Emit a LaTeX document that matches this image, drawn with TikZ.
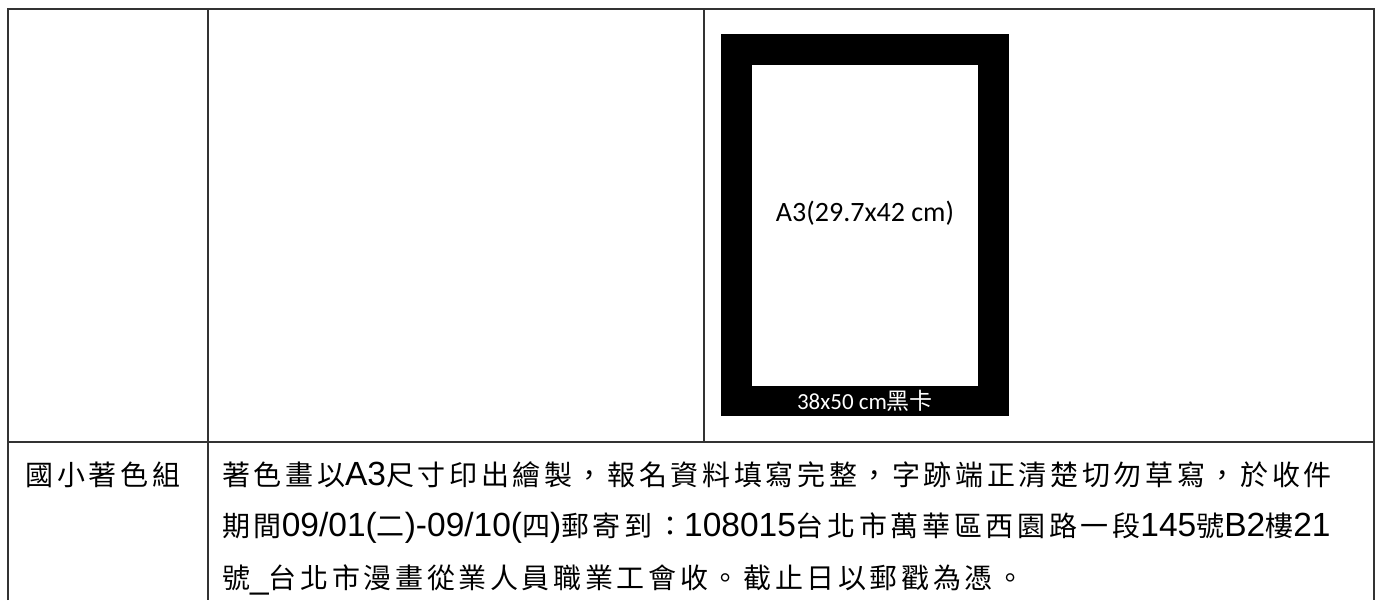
\documentclass[tikz,border=0pt]{standalone}
\usepackage{fontspec}
\newfontfamily\cjk[LetterSpace=13]{Noto Sans CJK TC}
\newfontfamily\cjkplain{Noto Sans CJK TC}
\newfontfamily\latfont{Liberation Sans}
\newfontfamily\calfont{Carlito}
\newcommand\lrun[1]{{\latfont\fontsize{33.5}{34}\selectfont #1}}
\begin{document}
\begin{tikzpicture}[x=1pt,y=-1pt,
  grid/.style={line width=1.6pt,draw=black!80},
  body/.style={font=\cjk\fontsize{28}{34}\selectfont,inner sep=0pt,anchor=base west},
  cardlbl/.style={font=\calfont\fontsize{28}{32}\selectfont,inner sep=0pt},
  cardsub/.style={font=\calfont\fontsize{23}{26}\selectfont,text=white,inner sep=0pt}]
\useasboundingbox (0,0) rectangle (1379,600);
\fill[white] (0,0) rectangle (1379,600);
% grid
\draw[grid] (8,600) -- (8,9) -- (1374,9) -- (1374,600);
\draw[grid] (208,9) -- (208,600);
\draw[grid] (704,9) -- (704,442);
\draw[grid] (8,442) -- (1374,442);
% card
\fill[black] (721,34) rectangle (1009,416);
\fill[white] (752,65) rectangle (978,386);
\node[cardlbl] (a3) at (865,213) {A3(29.7x42 cm)};
\node[cardsub] (card) at (865,401) {38x50 cm{\cjkplain 黑卡}};
% text
\node[body,anchor=base] (grp) at (103,485) {國小著色組};
\node[body] (l1) at (222,485) {著色畫以\lrun{A3}尺寸印出繪製，報名資料填寫完整，字跡端正清楚切勿草寫，於收件};
\node[body] (l2) at (222,536) {期間\lrun{09/01(}二\lrun{)-09/10(}四\lrun{)}郵寄到：\lrun{108015}台北市萬華區西園路一段\lrun{145}號\lrun{B2}樓\lrun{21}};
\node[body] (l3) at (222,588) {號\lrun{\_}台北市漫畫從業人員職業工會收。截止日以郵戳為憑。};
\end{tikzpicture}
\end{document}
